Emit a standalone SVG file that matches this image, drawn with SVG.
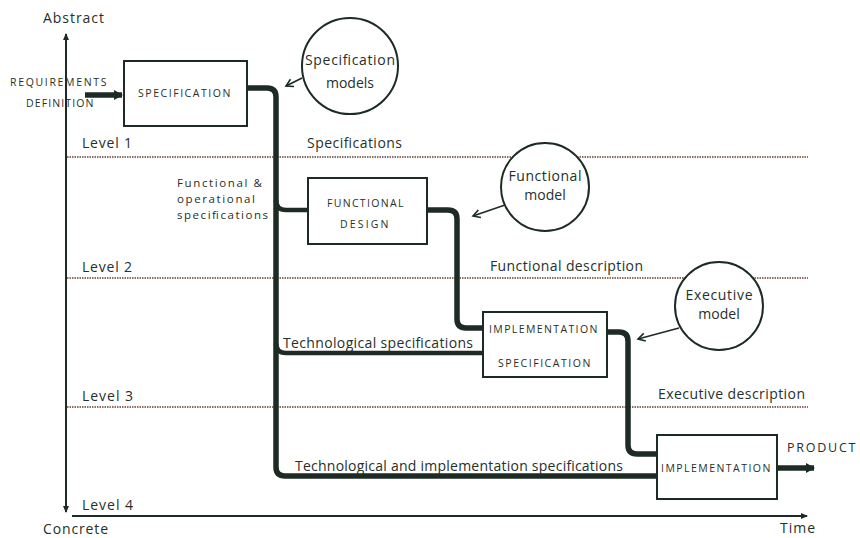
<svg xmlns="http://www.w3.org/2000/svg" width="860" height="538" viewBox="0 0 860 538">
  <style>
    text { font-family: "Open Sans", "Noto Sans", sans-serif; fill: #26302b; }
    .lbl { font-size: 14px; }
    .small { font-size: 11.5px; }
    .caps { font-size: 10.5px; letter-spacing: 1.6px; }
    .box { fill: #ffffff; stroke: #1e2b25; stroke-width: 2; }
    .bubble { fill: #ffffff; stroke: #1e2b25; stroke-width: 2; }
    .flow { fill: none; stroke: #1e2b25; stroke-width: 5.5; }
    .branch { fill: none; stroke: #1e2b25; stroke-width: 4.5; }
    .axis { fill: none; stroke: #1e2b25; stroke-width: 2; }
    .level { fill: none; stroke: #8a6f62; stroke-width: 2; stroke-dasharray: 1.5 1; }
    .ptr { fill: none; stroke: #1e2b25; stroke-width: 1.6; }
  </style>
  <defs>
    <marker id="axisHead" markerWidth="8" markerHeight="8" refX="6" refY="4" orient="auto" markerUnits="userSpaceOnUse">
      <path d="M0,1 L7,4 L0,7 Z" fill="#1e2b25"/>
    </marker>
    <marker id="thickHead" markerWidth="10" markerHeight="12" refX="8" refY="6" orient="auto" markerUnits="userSpaceOnUse">
      <path d="M0,1 L9,6 L0,11 Z" fill="#1e2b25"/>
    </marker>
    <marker id="ptrHead" markerWidth="10" markerHeight="10" refX="8" refY="5" orient="auto" markerUnits="userSpaceOnUse">
      <path d="M1,1 L8,5 L1,9" fill="none" stroke="#1e2b25" stroke-width="1.6"/>
    </marker>
  </defs>

  <!-- abstraction / time axes -->
  <g id="axes">
    <line class="axis" x1="66" y1="273" x2="66" y2="34" marker-end="url(#axisHead)"/>
    <line class="axis" x1="66" y1="273" x2="66" y2="512" marker-end="url(#axisHead)"/>
    <line class="axis" x1="72" y1="516" x2="807" y2="516" marker-end="url(#axisHead)"/>
    <text class="lbl" x="43" y="23" textLength="61">Abstract</text>
    <text class="lbl" x="43" y="534" textLength="65">Concrete</text>
    <text class="lbl" x="780" y="533" textLength="35">Time</text>
  </g>

  <!-- abstraction levels -->
  <g id="levels">
    <line class="level" x1="67" y1="157" x2="808" y2="157"/>
    <line class="level" x1="67" y1="278" x2="808" y2="278"/>
    <line class="level" x1="67" y1="407" x2="808" y2="407"/>
    <text class="lbl" x="82" y="148" textLength="50">Level 1</text>
    <text class="lbl" x="82" y="272" textLength="50">Level 2</text>
    <text class="lbl" x="82" y="401" textLength="51">Level 3</text>
    <text class="lbl" x="82" y="510" textLength="51">Level 4</text>
    <text class="lbl" x="307" y="148" textLength="95">Specifications</text>
    <text class="lbl" x="490" y="271" textLength="153">Functional description</text>
    <text class="lbl" x="658" y="399" textLength="147">Executive description</text>
  </g>

  <!-- flow connectors -->
  <g id="connectors">
    <line class="flow" x1="85" y1="95" x2="122" y2="95" marker-end="url(#thickHead)"/>
    <path class="flow" d="M247,88 H267 Q276,88 276,97 V467 Q276,476 285,476 H657"/>
    <path class="branch" d="M276,200 Q276,210 286,210 H308"/>
    <path class="branch" d="M276,343 Q276,353 286,353 H483"/>
    <path class="flow" d="M427,210 H448 Q457,210 457,219 V319 Q457,328 466,328 H483"/>
    <path class="flow" d="M607,332 H619 Q628,332 628,341 V445 Q628,454 637,454 H657"/>
    <line class="flow" x1="777" y1="468" x2="814" y2="468" marker-end="url(#thickHead)"/>
    <line class="ptr" x1="302" y1="78" x2="286" y2="86" marker-end="url(#ptrHead)"/>
    <line class="ptr" x1="505" y1="205" x2="473" y2="216" marker-end="url(#ptrHead)"/>
    <line class="ptr" x1="679" y1="328" x2="638" y2="339" marker-end="url(#ptrHead)"/>
  </g>

  <g id="requirements-definition">
    <text class="caps" x="10" y="86" textLength="98">REQUIREMENTS</text>
    <text class="caps" x="26" y="107" textLength="69">DEFINITION</text>
  </g>

  <g id="specification">
    <rect class="box" x="124" y="61" width="123" height="65"/>
    <text class="caps" x="138" y="97" textLength="94">SPECIFICATION</text>
  </g>

  <g id="specification-models">
    <circle class="bubble" cx="350" cy="66" r="48"/>
    <text class="lbl" x="350" y="65" text-anchor="middle" textLength="90">Specification</text>
    <text class="lbl" x="350" y="88" text-anchor="middle">models</text>
  </g>

  <g id="functional-operational-specifications">
    <text class="small" x="177" y="187" textLength="85">Functional &amp;</text>
    <text class="small" x="177" y="203" textLength="78">operational</text>
    <text class="small" x="177" y="219" textLength="91">specifications</text>
  </g>

  <g id="functional-design">
    <rect class="box" x="308" y="178" width="119" height="66"/>
    <text class="caps" x="327" y="207" textLength="78">FUNCTIONAL</text>
    <text class="caps" x="340" y="228" textLength="50">DESIGN</text>
  </g>

  <g id="functional-model">
    <circle class="bubble" cx="545" cy="187" r="44"/>
    <text class="lbl" x="545" y="181" text-anchor="middle" textLength="73">Functional</text>
    <text class="lbl" x="545" y="200" text-anchor="middle">model</text>
  </g>

  <g id="technological-specifications">
    <text class="lbl" x="283" y="348" textLength="190">Technological specifications</text>
  </g>

  <g id="implementation-specification">
    <rect class="box" x="483" y="312" width="124" height="65"/>
    <text class="caps" x="489" y="333" textLength="110">IMPLEMENTATION</text>
    <text class="caps" x="498" y="367" textLength="94">SPECIFICATION</text>
  </g>

  <g id="executive-model">
    <circle class="bubble" cx="719" cy="306" r="44"/>
    <text class="lbl" x="719" y="300" text-anchor="middle" textLength="67">Executive</text>
    <text class="lbl" x="719" y="319" text-anchor="middle">model</text>
  </g>

  <g id="technological-implementation-specifications">
    <text class="lbl" x="295" y="471" textLength="328">Technological and implementation specifications</text>
  </g>

  <g id="implementation">
    <rect class="box" x="657" y="435" width="120" height="64"/>
    <text class="caps" x="661" y="472" textLength="111">IMPLEMENTATION</text>
  </g>

  <g id="product">
    <text x="787" y="452" font-size="12.5" letter-spacing="1.5" textLength="70">PRODUCT</text>
  </g>
</svg>
